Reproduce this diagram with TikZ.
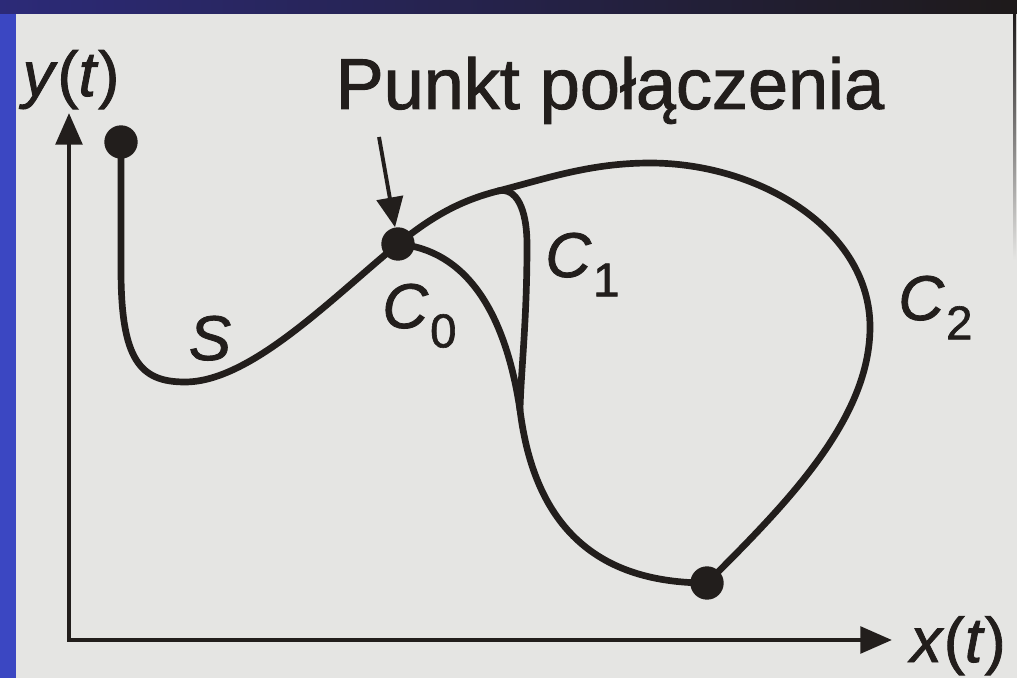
\documentclass[tikz,border=0pt]{standalone}
\usepackage{fontspec}
\setmainfont{Liberation Sans}[
  BoldFont={Liberation Sans}, BoldFeatures={FakeBold=1.3},
  BoldItalicFont={Liberation Sans Italic}, BoldItalicFeatures={FakeBold=1.3}]
\usepackage{xcolor}
\usetikzlibrary{arrows.meta}
\definecolor{slidegrey}{HTML}{E5E5E3}
\definecolor{slideblue}{HTML}{3B47C2}
\definecolor{slidenavy}{HTML}{2C2A78}
\definecolor{slidedark}{HTML}{1E1A1A}
\definecolor{ink}{HTML}{221E1C}
\newcommand{\csub}[1]{\textit{C}\kern1pt\raisebox{-11pt}{\fontsize{27}{28}\selectfont #1}}
\tikzset{
  curveline/.style={draw=ink, line width=3.8pt, line cap=round},
  axisarrow/.style={draw=ink, line width=2.6pt, line join=miter,
    {Triangle[length=18pt,width=15pt]}-{Triangle[length=18pt,width=15pt]}},
  pointarrow/.style={draw=ink, line width=2.2pt,
    -{Triangle[length=17pt,width=15pt]}},
  dotpt/.style={circle, fill=ink, inner sep=0pt, minimum size=19pt},
  lbl/.style={text=ink, inner sep=0pt, font=\bfseries\fontsize{36}{40}\selectfont},
  titlelbl/.style={text=ink, inner sep=0pt,
    font=\bfseries\fontsize{41}{46}\selectfont}
}

\begin{document}
\begin{tikzpicture}[x=0.02cm,y=-0.02cm]
  \useasboundingbox (0,0) rectangle (1017,678);
  % slide background
  \fill[slidegrey] (0,0) rectangle (1017,678);
  \fill[slideblue] (0,0) rectangle (16,678);
  \shade[left color=slidenavy, right color=slidedark] (0,0) rectangle (1017,14);
  \shade[top color=slidedark, bottom color=slidegrey] (1013,14) rectangle (1016,260);

  % axes
  \coordinate (orig) at (69,640);
  \coordinate (ytip) at (69,113);
  \coordinate (xtip) at (892,640);
  \draw[axisarrow] (ytip) -- (orig) -- (xtip);
  \node[lbl, anchor=base] (ylab) at (71,96) {\textit{y}(\textit{t})};
  \node[lbl, anchor=base] (xlab) at (958,662) {\textit{x}(\textit{t})};

  % points
  \node[dotpt] (start) at (121,142) {};
  \node[dotpt] (join) at (398,244) {};
  \node[dotpt] (end) at (707,583) {};
  \coordinate (fork) at (498,191);
  \coordinate (merge) at (520,410);

  % curve S
  \draw[curveline] (start.center) -- (121,270)
    .. controls (121,360) and (140,382) .. (185,382)
    .. controls (250,382) and (330,300) .. (join.center);
  % curve C2
  \draw[curveline] (join.center) .. controls (435,214) and (463,200) .. (fork)
    .. controls (545,179) and (590,163) .. (650,163)
    .. controls (760,163) and (870,230) .. (870,327)
    .. controls (870,420) and (785,505) .. (end.center);
  % curve C1
  \draw[curveline] (fork) .. controls (516,187) and (527,208) .. (527,245)
    .. controls (527,320) and (521,370) .. (merge);
  % curve C0
  \draw[curveline] (join.center) .. controls (465,250) and (505,310) .. (merge)
    .. controls (535,530) and (600,583) .. (end.center);

  % labels
  \node[titlelbl, anchor=base] (title) at (610,109) {Punkt połączenia};
  \coordinate (ptail) at (379,137);
  \draw[pointarrow] (ptail) -- (join);
  \node[lbl, anchor=base] (slab) at (210,360) {\textit{S}};
  \node[lbl, anchor=base west] (c0lab) at (382,328) {\csub{0}};
  \node[lbl, anchor=base west] (c1lab) at (545,277) {\csub{1}};
  \node[lbl, anchor=base west] (c2lab) at (898,320) {\csub{2}};
\end{tikzpicture}
\end{document}
